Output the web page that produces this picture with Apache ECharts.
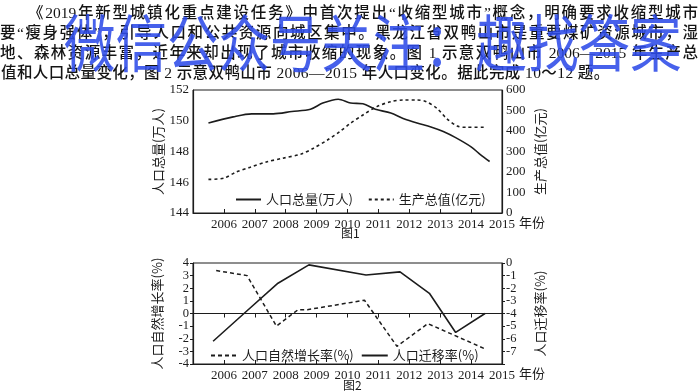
<!DOCTYPE html>
<html><head><meta charset="utf-8">
<script src="https://cdn.jsdelivr.net/npm/echarts@6/dist/echarts.min.js"></script>
<style>
html,body{margin:0;padding:0;background:#fff;width:700px;height:391px;overflow:hidden;}
#chart{position:absolute;left:0;top:0;width:700px;height:391px;}
#para{position:absolute;left:0;top:3px;width:700px;font-family:"Liberation Serif","Noto Sans CJK SC",serif;font-size:15.5px;font-weight:500;line-height:20px;color:#141414;z-index:2;}
.l{white-space:nowrap;text-align:justify;text-align-last:justify;text-justify:inter-character;}
#wm{position:absolute;left:64px;top:7px;font-family:"Noto Sans CJK SC",sans-serif;font-size:62px;line-height:66px;color:rgba(45,75,232,0.88);white-space:nowrap;transform:scaleX(0.83);transform-origin:0 0;z-index:3;}
</style></head>
<body>
<div id="chart"></div>
<div id="para">
<div class="l" style="margin-left:28px;width:670px">《2019年新型城镇化重点建设任务》中首次提出“收缩型城市”概念，明确要求收缩型城市</div>
<div class="l" style="width:698px">要“瘦身强体”，引导人口和公共资源向城区集中。黑龙江省双鸭山市是重要煤矿资源城市，湿</div>
<div class="l" style="width:698px">地、森林资源丰富，近年来却出现了城市收缩的现象。图 1 示意双鸭山市 2006—2015 年生产总</div>
<div style="white-space:nowrap;margin-left:1px;letter-spacing:0.4px">值和人口总量变化，图 2 示意双鸭山市 2006—2015 年人口变化。据此完成 10～12 题。</div>
</div>
<div id="wm">微信公众号关注：趣找答案</div>
<script>
// ---- data ----
const yearLabels = [2006, 2007, 2008, 2009, 2010, 2011, 2012, 2013, 2014, 2015];
const popTicks = [144, 146, 148, 150, 152];
const gdpTicks = [0, 100, 200, 300, 400, 500, 600];
const natTicks = [-4, -3, -2, -1, 0, 1, 2, 3, 4];
const migTicks = [-7, -6, -5, -4, -3, -2, -1, 0];

const popX = [2005.5, 2006.3, 2006.9, 2007.6, 2008.2, 2008.8, 2009.2, 2009.7, 2010.1, 2010.5, 2010.9, 2011.4, 2011.8, 2012.25, 2012.7, 2013.1, 2013.5, 2014.0, 2014.3, 2014.6];
const popY = [149.85, 150.25, 150.45, 150.45, 150.6, 150.75, 151.15, 151.4, 151.15, 151.1, 150.75, 150.5, 150.15, 149.85, 149.6, 149.3, 148.9, 148.3, 147.8, 147.35];

const gdpX = [2005.5, 2006.0, 2006.4, 2006.85, 2007.4, 2007.9, 2008.5, 2008.9, 2009.35, 2009.75, 2010.1, 2010.5, 2010.95, 2011.4, 2011.8, 2012.25, 2012.55, 2012.9, 2013.2, 2013.55, 2013.85, 2014.5];
const gdpY = [164, 170, 200, 223, 250, 267, 288, 316, 356, 397, 438, 478, 519, 543, 551, 551, 543, 510, 462, 424, 418, 418];

const natX = [2005.75, 2006.75, 2007.7, 2008.4, 2008.7, 2010.55, 2011.6, 2012.6, 2014.45];
const natY = [3.4, 3.0, -1.0, 0.3, 0.3, 1.05, -2.6, -0.8, -2.8];

const migX = [2005.65, 2006.65, 2007.75, 2008.75, 2010.6, 2011.7, 2012.65, 2013.5, 2014.45];
const migY = [-6.2, -4.0, -1.6, -0.15, -0.95, -0.7, -2.4, -5.5, -4.0];

// ---- chart ----
const zip = (xs, ys) => xs.map((x, i) => [x, ys[i]]);
const black = '#1c1c1c';
const serif = '"Liberation Serif","Noto Sans CJK SC",serif';
const cjk = '"Noto Sans CJK SC","Liberation Serif",sans-serif';
const minOf = a => Math.min.apply(null, a), maxOf = a => Math.max.apply(null, a);

function xAxisFor(grid, extra) {
  return Object.assign({
    type: 'value', gridIndex: grid, min: yearLabels[0] - 1, max: maxOf(yearLabels), interval: 1,
    axisLine: { onZero: false, lineStyle: { color: black, width: 1.2 } },
    axisTick: { inside: true, length: 4, lineStyle: { color: black } },
    splitLine: { show: false },
    axisLabel: { fontFamily: serif, fontSize: 13, color: black, margin: 5, showMinLabel: true, showMaxLabel: true, hideOverlap: false,
      formatter: v => yearLabels.indexOf(v) >= 0 ? String(v) : '' },
    name: '年份', nameLocation: 'end', nameGap: 16,
    nameTextStyle: { fontFamily: cjk, fontSize: 13, color: black, verticalAlign: 'top', padding: [3, 0, 0, 0] }
  }, extra || {});
}
function yAxisFor(grid, pos, ticks, name, gap, fs, extra) {
  return Object.assign({
    type: 'value', gridIndex: grid, position: pos,
    min: minOf(ticks), max: maxOf(ticks), interval: ticks[1] - ticks[0],
    axisLine: { show: true, onZero: false, lineStyle: { color: black, width: 1.2 } },
    axisTick: { show: false },
    splitLine: { show: false },
    axisLabel: { fontFamily: serif, fontSize: fs, lineHeight: fs, color: black, margin: 4, showMinLabel: true, showMaxLabel: true, hideOverlap: false },
    name: name, nameLocation: 'middle', nameRotate: 90, nameGap: gap,
    nameTextStyle: { fontFamily: cjk, fontSize: 13, color: black }
  }, extra || {});
}
const gridH2 = 101;

const chart = echarts.init(document.getElementById('chart'));
chart.setOption({
  animation: false,
  backgroundColor: '#fff',
  grid: [
    { left: 193, top: 90, width: 309, height: 123, show: true, borderColor: black, borderWidth: 1, outerBoundsMode: 'none' },
    { left: 193, top: 263, width: 309, height: gridH2, show: true, borderColor: black, borderWidth: 1, outerBoundsMode: 'none' }
  ],
  xAxis: [
    xAxisFor(0),
    xAxisFor(1),
    xAxisFor(1, { offset: -gridH2 / 2, axisLabel: { show: false }, name: '' })
  ],
  yAxis: [
    yAxisFor(0, 'left', popTicks, '人口总量(万人)', 28, 13),
    yAxisFor(0, 'right', gdpTicks, '生产总值(亿元)', 32, 13),
    yAxisFor(1, 'left', natTicks, '人口自然增长率(%)', 29, 12.5, { axisTick: { show: true, length: 3, lineStyle: { color: black } } }),
    yAxisFor(1, 'right', [-8].concat(migTicks), '人口迁移率(%)', 32, 12.5, {
      axisTick: { show: true, length: 3, lineStyle: { color: black } },
      axisLabel: { fontFamily: serif, fontSize: 12.5, lineHeight: 12.5, color: black, margin: 4, showMinLabel: true, showMaxLabel: true, hideOverlap: false,
        formatter: v => migTicks.indexOf(v) >= 0 ? String(v) : '' } })
  ],
  legend: [
    { data: ['人口总量(万人)', '生产总值(亿元)'], left: 235, top: 193, padding: 0, itemWidth: 25, itemHeight: 10, itemGap: 15,
      itemStyle: { opacity: 0 }, textStyle: { fontFamily: cjk, fontSize: 13, color: black } },
    { data: ['人口自然增长率(%)', '人口迁移率(%)'], left: 210, top: 349, padding: 0, itemWidth: 26, itemHeight: 10, itemGap: 7,
      itemStyle: { opacity: 0 }, textStyle: { fontFamily: cjk, fontSize: 13, color: black } }
  ],
  series: [
    { name: '人口总量(万人)', type: 'line', xAxisIndex: 0, yAxisIndex: 0, data: zip(popX, popY), smooth: 0.3,
      symbol: 'none', lineStyle: { color: black, width: 1.6 }, itemStyle: { color: black } },
    { name: '生产总值(亿元)', type: 'line', xAxisIndex: 0, yAxisIndex: 1, data: zip(gdpX, gdpY), smooth: 0.3,
      symbol: 'none', lineStyle: { color: black, width: 1.6, type: [3, 3] }, itemStyle: { color: black } },
    { name: '人口自然增长率(%)', type: 'line', xAxisIndex: 1, yAxisIndex: 2, data: zip(natX, natY),
      symbol: 'none', lineStyle: { color: black, width: 1.5, type: [4, 3] }, itemStyle: { color: black } },
    { name: '人口迁移率(%)', type: 'line', xAxisIndex: 1, yAxisIndex: 3, data: zip(migX, migY),
      symbol: 'none', lineStyle: { color: black, width: 1.6 }, itemStyle: { color: black } }
  ],
  graphic: [
    { type: 'text', left: 341, top: 227, style: { text: '图1', font: '12px ' + cjk, fill: black } },
    { type: 'text', left: 343, top: 379, style: { text: '图2', font: '12px ' + cjk, fill: black } }
  ]
});
</script>
</body></html>
